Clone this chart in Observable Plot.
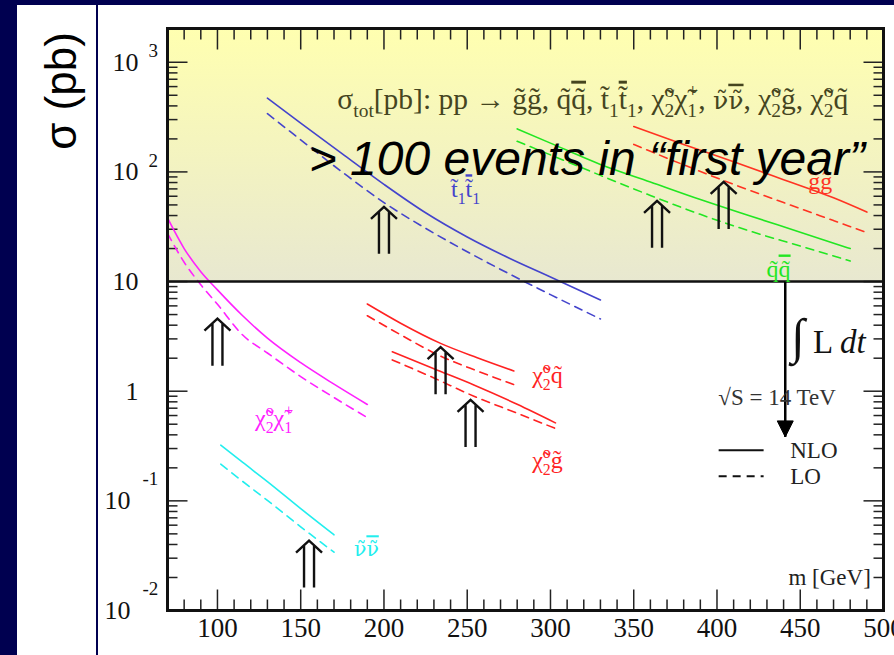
<!DOCTYPE html>
<html>
<head>
<meta charset="utf-8">
<script src="https://cdn.jsdelivr.net/npm/d3@7"></script>
<script src="https://cdn.jsdelivr.net/npm/@observablehq/plot@0.6"></script>
<style>
  html, body { margin: 0; padding: 0; }
  body { width: 894px; height: 655px; background: #000050; position: relative; overflow: hidden; }
  #panel { position: absolute; left: 17px; top: 5px; width: 877px; height: 650px; background: #ffffff; }
  #divider { position: absolute; left: 96px; top: 5px; width: 1.5px; height: 650px; background: #000050; }
  #ylabel { position: absolute; left: 61px; top: 91px; transform: translate(-50%, -50%) rotate(-90deg);
            font-family: "Liberation Sans", Arial, sans-serif; font-size: 44px; color: #000; white-space: nowrap; }
  #chart { position: absolute; left: 97px; top: 5px; }
</style>
</head>
<body>
<div id="panel"></div>
<div id="divider"></div>
<div id="ylabel">σ (pb)</div>
<div id="chart"></div>
<script>
const T = "\u0303";  // combining tilde

// ---------- data ----------
const xDomain = [70, 500];
const yDomain = [0.01, 2032];
const threshold = 10; // "> 100 events in first year"

const chiChaMass = [70, 80, 90, 100, 115, 130, 150, 170, 190];
const chiChaNLO  = [38, 20, 12.3, 8.4, 4.9, 3.05, 1.82, 1.16, 0.757];
const chiChaLO   = [27.5, 15, 9.35, 6.2, 3.27, 2.23, 1.36, 0.875, 0.575];

const stopMass = [130, 150, 175, 200, 225, 250, 275, 300, 330];
const stopNLO  = [470, 279, 146, 77, 42.4, 25.5, 16.4, 11, 6.8];
const stopLO   = [340, 196, 99.5, 52.5, 30.6, 18.7, 11.8, 7.6, 4.56];

const squarkMass = [280, 300, 330, 360, 390, 420, 450, 480];
const squarkNLO  = [247, 183, 117, 81, 56, 39.6, 28.2, 20];
const squarkLO   = [190, 143, 93, 61, 41, 28.8, 21.1, 15.4];

const gluinoMass = [350, 380, 410, 440, 470, 490];
const gluinoNLO  = [259, 178, 124, 85, 58, 43];
const gluinoLO   = [178, 116, 77, 52.5, 36, 28];

const chiSqMass = [190, 210, 234, 256, 278];
const chiSqNLO  = [6.24, 4.17, 2.73, 2.02, 1.53];
const chiSqLO   = [4.88, 3.27, 2.09, 1.53, 1.15];

const chiGlMass = [205, 230, 254, 280, 303];
const chiGlNLO  = [2.29, 1.60, 1.14, 0.76, 0.514];
const chiGlLO   = [1.93, 1.32, 0.90, 0.63, 0.457];

const snuMass = [102, 115, 130, 150, 170];
const snuNLO  = [0.322, 0.225, 0.150, 0.085, 0.049];
const snuLO   = [0.216, 0.151, 0.101, 0.058, 0.034];

// threshold arrows (mass, sigma at arrow foot)
const arrowMass  = [100, 155, 200, 234, 252, 364, 404];
const arrowSigma = [1.71, 0.0162, 17.9, 0.94, 0.31, 20.3, 30.2];

const xTickLabels = [100, 150, 200, 250, 300, 350, 400, 450, 500];
const yTickValues = [0.01, 0.1, 1, 10, 100, 1000];
const yTickBase   = ["10", "10", "1", "10", "10", "10"];
const yTickExp    = ["-2", "-1", "", "", "2", "3"];

// curve labels  (markup: _{sub} ^{sup} ~{overlined} @{greek} #{overlined greek})
const labelText  = [`t${T}_{1}~{t${T}}_{1}`, `g${T}g${T}`, `q${T}~{q${T}}`, `χ${T}_{2}^{o}χ${T}_{1}^{+}`, `χ${T}_{2}^{o}q${T}`, `χ${T}_{2}^{o}g${T}`, `@{ν${T}}#{ν${T}}`];
const labelMass  = [249, 462, 437, 134, 289, 289, 182];
const labelSigma = [69, 82, 12.8, 0.567, 1.40, 0.234, 0.0367];
const labelAnchor = ["middle", "middle", "middle", "middle", "start", "start", "start"];

// ---------- styling ----------
const colors = {chiCha: "#ff22ff", stop: "#4444cc", squark: "#22e622", gluino: "#ff3322", chiSq: "#ff2222", chiGl: "#ff2222", snu: "#22eeee"};
const labelColor = [colors.stop, colors.gluino, colors.squark, colors.chiCha, colors.chiSq, colors.chiGl, colors.snu];

const series = [
  {key: "chiCha", mass: chiChaMass, nlo: chiChaNLO, lo: chiChaLO},
  {key: "stop", mass: stopMass, nlo: stopNLO, lo: stopLO},
  {key: "squark", mass: squarkMass, nlo: squarkNLO, lo: squarkLO},
  {key: "gluino", mass: gluinoMass, nlo: gluinoNLO, lo: gluinoLO},
  {key: "chiSq", mass: chiSqMass, nlo: chiSqNLO, lo: chiSqLO},
  {key: "chiGl", mass: chiGlMass, nlo: chiGlNLO, lo: chiGlLO},
  {key: "snu", mass: snuMass, nlo: snuNLO, lo: snuLO}
];

const curveMarks = series.flatMap(s => {
  const nlo = s.mass.map((m, i) => ({m, sigma: s.nlo[i]}));
  const lo = s.mass.map((m, i) => ({m, sigma: s.lo[i]}));
  return [
    Plot.line(lo, {x: "m", y: "sigma", stroke: colors[s.key], strokeWidth: 1.6, strokeDasharray: "8,6", curve: "monotone-x"}),
    Plot.line(nlo, {x: "m", y: "sigma", stroke: colors[s.key], strokeWidth: 1.6, curve: "monotone-x"})
  ];
});

// tick helpers
const seg = (dx, dy) => ({draw(ctx) { ctx.moveTo(0, 0); ctx.lineTo(dx, dy); }});
const xMinor = d3.range(80, 500, 10).filter(v => v % 50 !== 0);
const xMajor = d3.range(100, 500, 50);
const yMajor = yTickValues.filter(v => v > yDomain[0]);
const yMinor = [];
for (let e = -2; e <= 3; e++) for (let k = 2; k <= 9; k++) { const v = k * Math.pow(10, e); if (v < yDomain[1]) yMinor.push(v); }
const tickStyle = {fill: "none", stroke: "#222", strokeWidth: 1.5};

const doubleArrow = {draw(ctx) {
  ctx.moveTo(-5, 0); ctx.lineTo(-5, -42);
  ctx.moveTo(5, 0); ctx.lineTo(5, -42);
  ctx.moveTo(-13, -35); ctx.lineTo(0, -47); ctx.lineTo(13, -35);
}};
const downHead = {draw(ctx) { ctx.moveTo(0, 0); ctx.lineTo(-8, -16); ctx.lineTo(8, -16); ctx.closePath(); }};

const arrows = arrowMass.map((m, i) => ({m, sigma: arrowSigma[i]}));
const labels = labelText.map((t, i) => ({t, m: labelMass[i], sigma: labelSigma[i], color: labelColor[i], anchor: labelAnchor[i]}));

// annotation placements (data coordinates)
const lumiMass = 441, lumiTip = 0.383;
const legendX = [401, 428], legendTextX = 444;
const legendRows = [{name: "NLO", sigma: 0.289, dash: null}, {name: "LO", sigma: 0.168, dash: "8,6"}];

const serif = "'Liberation Serif', 'Times New Roman', serif";

const chart = Plot.plot({
  width: 797, height: 650,
  marginLeft: 70, marginRight: 11, marginTop: 23, marginBottom: 45,
  x: {domain: xDomain, axis: null},
  y: {type: "log", domain: yDomain, axis: null},
  style: {fontFamily: serif, background: "transparent", overflow: "visible"},
  marks: [
    Plot.rect([threshold], {x1: xDomain[0], x2: xDomain[1], y1: d => d, y2: yDomain[1], fill: "url(#yellowGrad)", inset: 0}),
    // ticks: bottom / top
    Plot.dot(xMinor, {x: d => d, frameAnchor: "bottom", symbol: seg(0, -11), ...tickStyle}),
    Plot.dot(xMajor, {x: d => d, frameAnchor: "bottom", symbol: seg(0, -21), ...tickStyle}),
    Plot.dot(xMinor, {x: d => d, frameAnchor: "top", symbol: seg(0, 11), ...tickStyle}),
    Plot.dot(xMajor, {x: d => d, frameAnchor: "top", symbol: seg(0, 21), ...tickStyle}),
    // ticks: left / right
    Plot.dot(yMinor, {y: d => d, frameAnchor: "left", symbol: seg(10, 0), ...tickStyle}),
    Plot.dot(yMajor, {y: d => d, frameAnchor: "left", symbol: seg(20, 0), ...tickStyle}),
    Plot.dot(yMinor, {y: d => d, frameAnchor: "right", symbol: seg(-10, 0), ...tickStyle}),
    Plot.dot(yMajor, {y: d => d, frameAnchor: "right", symbol: seg(-20, 0), ...tickStyle}),
    // tick labels
    Plot.text(xTickLabels, {x: d => d, frameAnchor: "bottom", dy: 26, text: d => String(d), fontSize: 27, fill: "#111", fontFamily: serif}),
    Plot.text(yTickValues.map((v, i) => ({v, b: yTickBase[i], e: yTickExp[i]})).filter(d => !d.e.startsWith("-")),
      {y: "v", frameAnchor: "left", dx: -29, text: "b", textAnchor: "end", fontSize: 26, fill: "#111", fontFamily: serif}),
    Plot.text(yTickValues.map((v, i) => ({v, b: yTickBase[i], e: yTickExp[i]})).filter(d => d.e.startsWith("-")),
      {y: "v", frameAnchor: "left", dx: -37, text: "b", textAnchor: "end", fontSize: 26, fill: "#111", fontFamily: serif}),
    Plot.text(yTickValues.map((v, i) => ({v, e: yTickExp[i]})).filter(d => d.e && !d.e.startsWith("-")),
      {y: "v", frameAnchor: "left", dx: -19, dy: -11, text: "e", textAnchor: "start", fontSize: 19, fill: "#111", fontFamily: serif}),
    Plot.text(yTickValues.map((v, i) => ({v, e: yTickExp[i]})).filter(d => d.e.startsWith("-")),
      {y: "v", frameAnchor: "left", dx: -25, dy: -22, text: "e", textAnchor: "start", fontSize: 19, fill: "#111", fontFamily: serif}),
    // curves
    ...curveMarks,
    // frame and threshold line
    Plot.ruleY([threshold], {stroke: "#111", strokeWidth: 2.5}),
    Plot.frame({stroke: "#111", strokeWidth: 3}),
    // threshold arrows
    Plot.dot(arrows, {x: "m", y: "sigma", symbol: doubleArrow, fill: "none", stroke: "#111", strokeWidth: 2.4}),
    // curve labels
    Plot.text(labels, {x: "m", y: "sigma", text: "t", fill: "color", textAnchor: "start", fontSize: 24, fontFamily: serif, filter: d => d.anchor === "start"}),
    Plot.text(labels, {x: "m", y: "sigma", text: "t", fill: "color", textAnchor: "middle", fontSize: 24, fontFamily: serif, filter: d => d.anchor === "middle"}),
    // title inside frame
    Plot.text([`σ_{tot}[pb]: pp → g${T}g${T}, q${T}~{q${T}}, t${T}_{1}~{t${T}}_{1}, χ${T}_{2}^{o}χ${T}_{1}^{+}, @{ν${T}}#{ν${T}}, χ${T}_{2}^{o}g${T}, χ${T}_{2}^{o}q${T}`],
      {x: 172, y: 460, text: d => d, textAnchor: "start", fontSize: 29.5, fill: "#45451f", fontFamily: serif}),
    // luminosity arrow
    Plot.link([lumiMass], {x1: d => d, x2: d => d, y1: threshold, y2: lumiTip, stroke: "#000", strokeWidth: 2.5}),
    Plot.dot([lumiMass], {x: d => d, y: lumiTip, symbol: downHead, fill: "#000", stroke: "#000", strokeWidth: 1}),
    Plot.text(["!{∫} L *{dt}"], {x: 444.5, y: 2.81, text: d => d, textAnchor: "start", fontSize: 33, fill: "#111", fontFamily: serif}),
    Plot.text(["√S = 14 TeV"], {x: 400.8, y: 0.865, text: d => d, textAnchor: "start", fontSize: 23, fill: "#333", fontFamily: serif}),
    // legend
    ...legendRows.map(r => Plot.link([r], {x1: legendX[0], x2: legendX[1], y1: r.sigma, y2: r.sigma, stroke: "#111", strokeWidth: 2, strokeDasharray: r.dash})),
    Plot.text(legendRows, {x: legendTextX, y: "sigma", text: "name", textAnchor: "start", fontSize: 23, fill: "#222", fontFamily: serif}),
    Plot.text(["m [GeV]"], {x: 492.4, y: 0.02, text: d => d, textAnchor: "end", fontSize: 23, fill: "#222", fontFamily: serif}),
    // big annotation
    Plot.text(["> 100 events in “first year”"], {x: 154.8, y: 130, text: d => d, textAnchor: "start", fontSize: 48, fontStyle: "italic", fontFamily: "'Liberation Sans', Arial, sans-serif", fill: "#000"})
  ]
});

document.getElementById("chart").appendChild(chart);

// gradient definition
const defs = d3.select(chart).insert("defs", ":first-child");
const grad = defs.append("linearGradient").attr("id", "yellowGrad").attr("x1", 0).attr("y1", 0).attr("x2", 0).attr("y2", 1);
grad.append("stop").attr("offset", "0%").attr("stop-color", "#ffffb0");
grad.append("stop").attr("offset", "100%").attr("stop-color", "#e8e8d0");

// rich text: _{sub}, ^{sup}, *{italic}, !{big}, ~{overline}, @{greek}, #{overlined greek}
d3.select(chart).selectAll("text").each(function () {
  const raw = this.textContent;
  if (!/[_^*!~@#]\{/.test(raw)) return;
  const size = parseFloat(getComputedStyle(this).fontSize) || 20;
  const re = /([_^*!~@#])\{([^}]*)\}|([^_^*!~@#]+)/g;
  const modes = {"_": "sub", "^": "sup", "*": "it", "!": "big", "~": "bar", "@": "greek", "#": "greekbar"};
  const segs = [];
  let m;
  while ((m = re.exec(raw))) {
    if (m[1]) segs.push({mode: modes[m[1]], t: m[2]});
    else segs.push({mode: "normal", t: m[3]});
  }
  this.textContent = "";
  let cur = 0, prev = null;
  for (const s of segs) {
    const target = s.mode === "sub" ? 0.28 * size : s.mode === "sup" ? -0.4 * size : 0;
    const ts = d3.select(this).append("tspan").text(s.t);
    if (s.mode === "sub" || s.mode === "sup") ts.attr("font-size", 0.66 * size);
    if (s.mode === "it") ts.attr("font-style", "italic");
    if (s.mode === "big") ts.attr("font-size", 1.5 * size);
    if (s.mode === "greek" || s.mode === "greekbar") ts.attr("font-family", "'DejaVu Serif', serif").attr("font-size", 0.85 * size);
    if (s.mode === "bar" || s.mode === "greekbar") ts.attr("text-decoration", "overline").style("text-decoration", "overline");
    if (target - cur !== 0) ts.attr("dy", target - cur);
    if (s.mode === "sup" && prev && prev.mode === "sub") ts.attr("dx", -prev.t.length * 0.5 * 0.66 * size);
    cur = target; prev = s;
  }
});
</script>
</body>
</html>
